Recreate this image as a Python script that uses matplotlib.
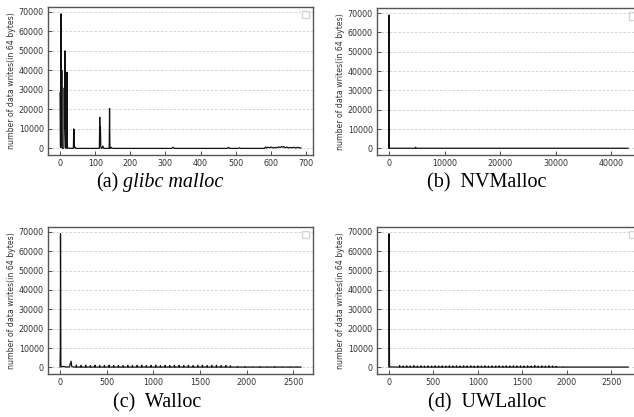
import numpy as np
import matplotlib.pyplot as plt

# (a) glibc malloc
glibc_x = [0, 1, 2, 3, 4, 5, 6, 7, 9, 11, 12, 13, 14, 15, 16, 17, 18, 19, 20, 21, 22, 24,
           37, 38, 39, 40, 41, 42, 44, 47, 111, 112, 113, 114, 115, 116, 117, 118, 120,
           122, 124, 127, 139, 140, 141, 142, 143, 145, 148, 152, 318, 322, 325, 328,
           476, 480, 483, 486, 508, 511, 514, 582, 585, 588, 592, 597, 602, 607, 612,
           617, 622, 627, 631, 634, 637, 641, 646, 651, 656, 661, 666, 671, 676, 686]
glibc_y = [28500, 1000, 500, 69000, 1000, 40000, 500, 0, 100, 300, 31000, 10000, 50000,
           10000, 500, 0, 100, 500, 39000, 500, 0, 100, 0, 200, 10000, 9000, 500, 800,
           100, 0, 0, 100, 16000, 5000, 11000, 1000, 300, 0, 200, 1200, 100, 0, 0, 100,
           20500, 500, 0, 600, 100, 0, 0, 600, 0, 0, 0, 500, 0, 0, 0, 300, 0, 0, 700,
           200, 600, 300, 700, 200, 500, 300, 800, 400, 1000, 600, 900, 300, 700, 200,
           500, 300, 600, 200, 500, 200]

# (b) NVMalloc
nv_x = [0, 1, 2, 60, 200, 4700, 4800, 4900, 10000, 20000, 30000, 43000]
nv_y = [100, 69000, 40000, 300, 100, 100, 600, 100, 100, 100, 100, 100]

# (c) Walloc
walloc_head_x = [0, 3, 5, 7, 9, 12, 20, 40, 60, 100, 118, 122, 126, 140]
walloc_head_y = [100, 10000, 69000, 40000, 1000, 800, 300, 500, 200, 200, 3200, 1500, 400, 200]
walloc_spike_x = [175, 225, 275, 325, 375, 425, 475, 525, 575, 625, 675, 725, 775, 825,
                  875, 925, 975, 1025, 1075, 1125, 1175, 1225, 1275, 1325, 1375, 1425,
                  1475, 1525, 1575, 1625, 1675, 1725, 1775, 1825, 1900, 1980, 2060,
                  2140, 2220, 2300, 2380, 2460, 2540]
walloc_spike_y = [1200, 1000, 1100, 900, 1100, 900, 1000, 1100, 900, 1000, 900, 1100,
                  900, 1000, 1100, 900, 1000, 1100, 900, 1000, 900, 1100, 1000, 900,
                  1100, 900, 1000, 1100, 900, 1000, 1100, 900, 1000, 800, 400, 400,
                  300, 400, 300, 400, 300, 300, 300]
walloc_end = 2580

# (d) UWLalloc
uwl_head_x = [0, 2, 4, 6, 10, 20, 60, 100]
uwl_head_y = [100, 69000, 40000, 1000, 300, 200, 200, 200]
uwl_spike_x = [120, 160, 200, 240, 280, 320, 360, 400, 440, 480, 520, 560, 600, 640,
               680, 720, 760, 800, 840, 880, 920, 960, 1000, 1040, 1080, 1120, 1160,
               1200, 1240, 1280, 1320, 1360, 1400, 1440, 1480, 1520, 1560, 1600, 1640,
               1680, 1720, 1760, 1800, 1840, 1880, 1960, 2100, 2300, 2500]
uwl_spike_y = [900, 700, 800, 700, 900, 700, 800, 700, 800, 700, 800, 700, 800, 700,
               800, 700, 800, 700, 800, 700, 800, 700, 800, 700, 800, 700, 800, 700,
               800, 700, 800, 700, 800, 700, 800, 700, 800, 700, 900, 700, 800, 700,
               800, 700, 500, 300, 200, 200, 200]
uwl_end = 2690


def spiky(head_x, head_y, spike_x, spike_y, end, base=150, w=4):
    xs = list(head_x)
    ys = list(head_y)
    for sx, sy in zip(spike_x, spike_y):
        xs += [sx - w, sx, sx + w]
        ys += [base, sy, base]
    xs.append(end)
    ys.append(base)
    return xs, ys


walloc_x, walloc_y = spiky(walloc_head_x, walloc_head_y, walloc_spike_x, walloc_spike_y, walloc_end)
uwl_x, uwl_y = spiky(uwl_head_x, uwl_head_y, uwl_spike_x, uwl_spike_y, uwl_end)

ylab = 'number of data writes(in 64 bytes)'

fig = plt.figure(figsize=(6.34, 4.17), dpi=100)
rects = [
    [0.0757, 0.628, 0.418, 0.355],
    [0.5946, 0.628, 0.415, 0.352],
    [0.0757, 0.103, 0.418, 0.3525],
    [0.5946, 0.103, 0.415, 0.3525],
]
series = [(glibc_x, glibc_y), (nv_x, nv_y), (walloc_x, walloc_y), (uwl_x, uwl_y)]

for r, (xs, ys) in zip(rects, series):
    ax = fig.add_axes(r)
    ax.plot(xs, ys, color='#111111', lw=0.9)
    ax.set_ylim(-3450, 72450)
    ax.set_yticks(np.arange(0, 70001, 10000))
    ax.grid(axis='y', ls=(0, (3, 2)), color='#d0d0d0', lw=0.6)
    ax.set_axisbelow(True)
    ax.tick_params(direction='in', labelsize=5.8, length=3, width=0.6,
                   colors='#333333', pad=3)
    for s in ax.spines.values():
        s.set_color('#555555')
        s.set_linewidth(1.0)
    ax.set_ylabel(ylab, fontsize=5.6, color='#333333', labelpad=2)
    ax.legend(handles=[], loc='upper right', frameon=True, borderpad=0.6,
              fontsize=4.5, borderaxespad=0.6, edgecolor='#cccccc', fancybox=False)

fig.axes[0].set_xticks(np.arange(0, 701, 100))
fig.axes[1].set_xticks(np.arange(0, 40001, 10000))
fig.axes[2].set_xticks(np.arange(0, 2501, 500))
fig.axes[3].set_xticks(np.arange(0, 2501, 500))

cap = dict(fontsize=14.5, family='Liberation Serif', va='center')
fig.text(118 / 634, 1 - 183 / 417, '(a)', ha='right', **cap)
fig.text(123 / 634, 1 - 183 / 417, 'glibc malloc', ha='left', style='italic', **cap)
fig.text(487 / 634, 1 - 183 / 417, '(b)  NVMalloc', ha='center', **cap)
fig.text(157 / 634, 1 - 403 / 417, '(c)  Walloc', ha='center', **cap)
fig.text(487 / 634, 1 - 403 / 417, '(d)  UWLalloc', ha='center', **cap)

fig.savefig('out.png', dpi=100)
